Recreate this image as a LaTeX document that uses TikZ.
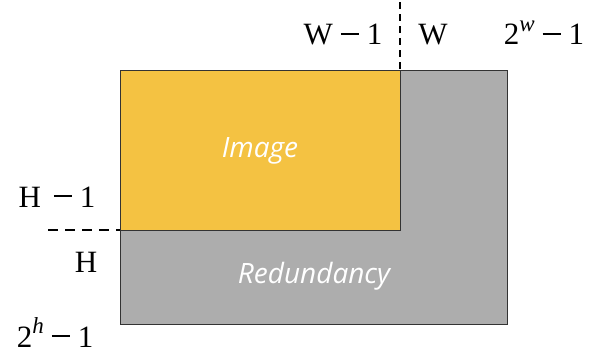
\documentclass[tikz,border=0pt]{standalone}
\usepackage{fontspec}
\newfontfamily\labelfont{Open Sans}
\newfontfamily\indexfont{Liberation Serif}
\definecolor{imgyellow}{HTML}{F4C242}
\definecolor{redgray}{HTML}{ADADAD}
% wide minus sign drawn as a rule, as in a math font
\newcommand{\mminus}{\hspace{8pt}\rule[10pt]{18pt}{2pt}\hspace{8pt}}
\newcommand{\supidx}[1]{\raisebox{0.42em}{\fontsize{23}{23}\selectfont\itshape #1}}
\begin{document}
\begin{tikzpicture}[x=1pt,y=-1pt,
  region/.style={draw=black!80,line width=0.9pt},
  guide/.style={draw=black,line width=1.6pt},
  axislabel/.style={anchor=base,inner sep=0pt,font=\indexfont\fontsize{31}{33}\selectfont},
  regionlabel/.style={text=white,inner sep=0pt,font=\labelfont\itshape\fontsize{28}{30}\selectfont}]
\useasboundingbox (0,0) rectangle (592,356);
% padded canvas (gray) and the image inside it (yellow)
\path[region,fill=redgray] (120,70) rectangle (507,324);
\path[region,fill=imgyellow] (120,70) rectangle (400,230);
% boundaries between W-1 / W and H-1 / H
\coordinate (vtop) at (400,2);
\coordinate (vbot) at (400,70);
\coordinate (hleft) at (48,230);
\coordinate (hright) at (120,230);
\draw[guide,dash pattern=on 7pt off 5pt] (vtop) -- (vbot);
\draw[guide,dash pattern=on 10pt off 7pt] (hleft) -- (hright);
% region names
\node[regionlabel] (img) at (260,151) {Image};
\node[regionlabel] (red) at (314,276) {Redundancy};
% column indices
\node[axislabel] (wm1) at (343,45) {W\mminus 1};
\node[axislabel] (w) at (433,45) {W};
\node[axislabel] (wmax) at (544,45) {2\supidx{w}\mminus 1};
% row indices
\node[axislabel] (hm1) at (57,207) {H\hspace{5pt}\mminus 1};
\node[axislabel] (h) at (86,272) {H};
\node[axislabel] (hmax) at (55,347) {2\supidx{h}\mminus 1};
\end{tikzpicture}
\end{document}
